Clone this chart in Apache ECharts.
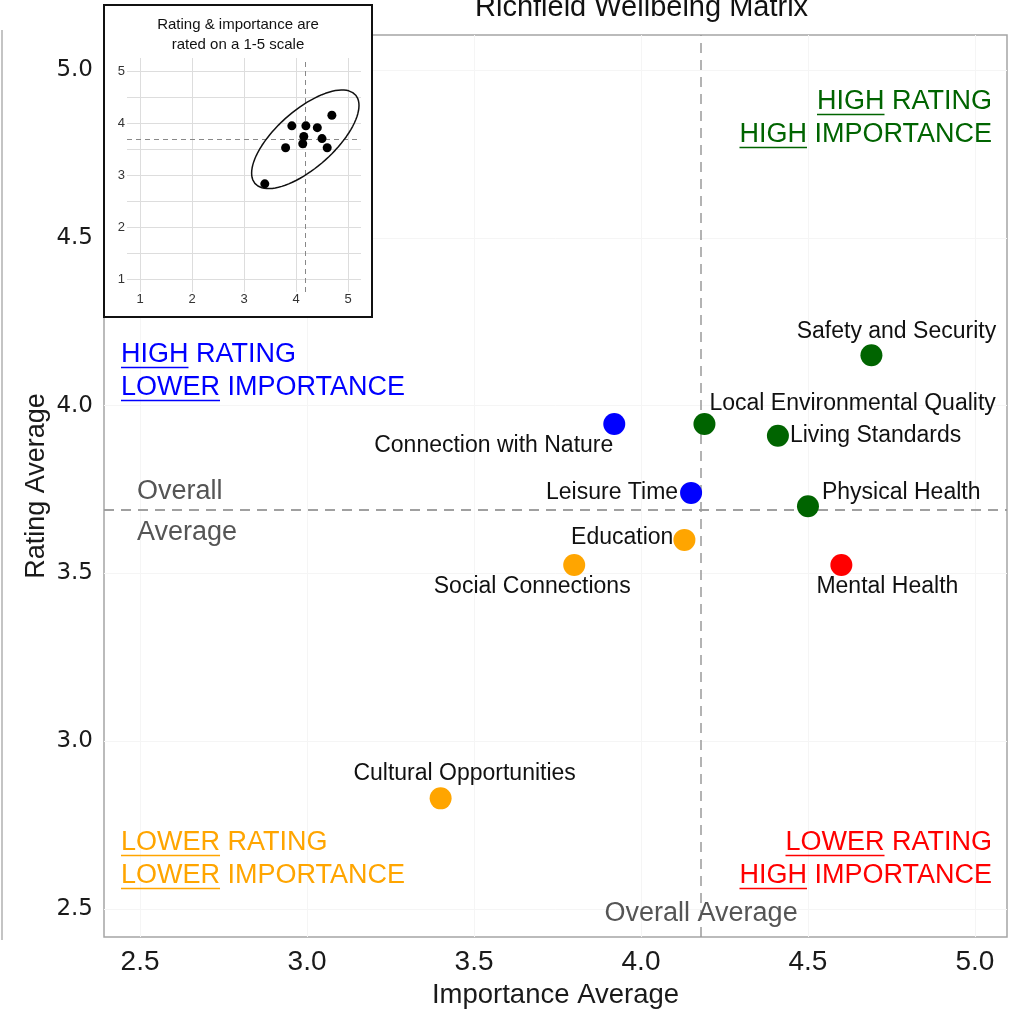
<!doctype html>
<html lang="en">
<head>
<meta charset="utf-8">
<title>Richfield Wellbeing Matrix</title>
<script src="https://cdn.jsdelivr.net/npm/echarts@6.0.0/dist/echarts.min.js"></script>
<style>
  html, body { margin: 0; padding: 0; background: #fff; }
  #chart { width: 1023px; height: 1014px; }
</style>
</head>
<body>
<div id="chart"></div>
<script>
  // data
  var names = ['Safety and Security', 'Local Environmental Quality', 'Living Standards',
    'Connection with Nature', 'Leisure Time', 'Physical Health', 'Education',
    'Social Connections', 'Mental Health', 'Cultural Opportunities'];
  var importance = [4.69, 4.19, 4.41, 3.92, 4.15, 4.50, 4.13, 3.80, 4.60, 3.40];
  var rating = [4.15, 3.945, 3.91, 3.945, 3.74, 3.70, 3.60, 3.525, 3.525, 2.83];
  // HH = high rating/high importance, HL = high rating/lower importance, ...
  var quadrant = ['HH', 'HH', 'HH', 'HL', 'HL', 'HH', 'LL', 'LL', 'LH', 'LL'];
  var xTicks = [2.5, 3.0, 3.5, 4.0, 4.5, 5.0];
  var yTicks = [2.5, 3.0, 3.5, 4.0, 4.5, 5.0];
  var insetTicks = [1, 2, 3, 4, 5];
  var insetYGrid = [1, 1.5, 2, 2.5, 3, 3.5, 4, 4.5, 5];

  // layout / style only
  var colors = { HH: '#006400', HL: '#0000ff', LL: '#ffa500', LH: '#ff0000' };
  // [align, dx, dy] of each point label
  var labelPlace = [
    ['center', 25, -24], ['left', 5, -20], ['left', 12, 0], ['right', -1, 22],
    ['right', -13, 0], ['left', 14, -14], ['right', -11, -2], ['center', -42, 22],
    ['center', 46, 22], ['center', 24, -25]
  ];
  var sans = '"Liberation Sans", Arial, sans-serif';

  function mean(a) { var s = 0; a.forEach(function (v) { s += v; }); return s / a.length; }
  var meanX = mean(importance);
  var meanY = mean(rating);

  // data ellipse from the covariance of the points (normal, level 0.92)
  function ellipse(xs, ys, level, segs) {
    var n = xs.length, mx = mean(xs), my = mean(ys);
    var sxx = 0, syy = 0, sxy = 0;
    for (var i = 0; i < n; i++) {
      sxx += (xs[i] - mx) * (xs[i] - mx);
      syy += (ys[i] - my) * (ys[i] - my);
      sxy += (xs[i] - mx) * (ys[i] - my);
    }
    sxx /= n - 1; syy /= n - 1; sxy /= n - 1;
    var d2 = n - 1;
    var fq = d2 / 2 * (Math.pow(1 - level, -2 / d2) - 1); // F(level; 2, n-1)
    var r = Math.sqrt(2 * fq);
    var a = Math.sqrt(sxx), b = sxy / a, c = Math.sqrt(syy - b * b);
    var pts = [];
    for (var k = 0; k <= segs; k++) {
      var t = 2 * Math.PI * k / segs;
      pts.push([mx + r * a * Math.cos(t), my + r * (b * Math.cos(t) + c * Math.sin(t))]);
    }
    return pts;
  }

  var mainData = names.map(function (nm, i) {
    var p = labelPlace[i];
    return {
      name: nm,
      value: [importance[i], rating[i]],
      itemStyle: { color: colors[quadrant[i]] },
      label: { align: p[0], offset: [p[1], p[2]] }
    };
  });
  var insetData = importance.map(function (v, i) { return [v, rating[i]]; });

  // quadrant captions with the first word underlined
  var measure = document.createElement('canvas').getContext('2d');
  function textW(s, size) {
    measure.font = size + 'px ' + sans;
    return measure.measureText(s).width;
  }
  function quadLabel(x, y, align, color, lines) {
    var els = [];
    var size = 27;
    lines.forEach(function (ln, i) {
      var full = ln[0] + ' ' + ln[1];
      var cy = y + i * 33;
      els.push({
        type: 'text', x: x, y: cy, z: 1,
        style: { text: full, fill: color, fontSize: size, fontFamily: sans, align: align, verticalAlign: 'middle' }
      });
      var w = textW(full, size), wu = textW(ln[0], size);
      var x0 = align === 'left' ? x : x - w;
      els.push({
        type: 'line', z: 1,
        shape: { x1: x0, y1: cy + 12.5, x2: x0 + wu, y2: cy + 12.5 },
        style: { stroke: color, lineWidth: 1.5 }
      });
    });
    return els;
  }

  var graphics = [
    { type: 'line', z: 0, shape: { x1: 2, y1: 30, x2: 2, y2: 940 }, style: { stroke: '#c4c4c4', lineWidth: 2 } },
    { type: 'rect', z: 3, shape: { x: 104, y: 5, width: 268, height: 312 },
      style: { fill: '#fff', stroke: '#111', lineWidth: 2 } },
    { type: 'text', z: 6, x: 238, y: 25,
      style: { text: 'Rating & importance are', fill: '#111', fontSize: 15, fontFamily: sans, align: 'center', verticalAlign: 'middle' } },
    { type: 'text', z: 6, x: 238, y: 45,
      style: { text: 'rated on a 1-5 scale', fill: '#111', fontSize: 15, fontFamily: sans, align: 'center', verticalAlign: 'middle' } }
  ]
    .concat(quadLabel(992, 102, 'right', colors.HH, [['HIGH', 'RATING'], ['HIGH', 'IMPORTANCE']]))
    .concat(quadLabel(121, 355, 'left', colors.HL, [['HIGH', 'RATING'], ['LOWER', 'IMPORTANCE']]))
    .concat(quadLabel(121, 843, 'left', colors.LL, [['LOWER', 'RATING'], ['LOWER', 'IMPORTANCE']]))
    .concat(quadLabel(992, 843, 'right', colors.LH, [['LOWER', 'RATING'], ['HIGH', 'IMPORTANCE']]));

  var chart = echarts.init(document.getElementById('chart'), null, { renderer: 'canvas' });

  var refLine = { color: '#9a9a9a', type: [10, 7], width: 1.5 };
  var refLabel = { fontSize: 27, fontFamily: sans, color: '#555' };

  var option = {
    backgroundColor: '#fff',
    animation: false,
    title: {
      text: 'Richfield Wellbeing Matrix',
      left: 470, top: -12,
      textStyle: { fontSize: 29, fontWeight: 'normal', fontFamily: sans, color: '#111' }
    },
    grid: [
      { left: 104, right: 16, top: 35, bottom: 74, show: true, borderColor: '#a5a5a5', borderWidth: 1.5 },
      { left: 127, top: 58, width: 234, height: 234 }
    ],
    xAxis: [
      {
        gridIndex: 0, type: 'value', min: 2.392, max: 5.096,
        name: 'Importance Average', nameLocation: 'middle', nameGap: 44, nameMoveOverlap: false,
        nameTextStyle: { fontSize: 27.5, fontFamily: sans, color: '#1a1a1a' },
        axisLine: { show: false },
        axisTick: { show: false, customValues: xTicks },
        axisLabel: {
          customValues: xTicks, margin: 11, fontSize: 28, fontFamily: sans, color: '#1a1a1a',
          formatter: function (v) { return v.toFixed(1); }
        },
        splitLine: { lineStyle: { color: '#f5f5f5', width: 1 } }
      },
      {
        gridIndex: 1, type: 'value', min: 0.75, max: 5.25, z: 4,
        axisLine: { show: false },
        axisTick: { show: false, customValues: insetTicks },
        axisLabel: { customValues: insetTicks, margin: 1, fontSize: 13, fontFamily: sans, color: '#333' },
        splitLine: { lineStyle: { color: '#dddddd', width: 1 } }
      }
    ],
    yAxis: [
      {
        gridIndex: 0, type: 'value', min: 2.417, max: 5.104,
        name: 'Rating Average', nameLocation: 'middle', nameGap: 54, nameMoveOverlap: false,
        nameTextStyle: { fontSize: 27, fontFamily: sans, color: '#1a1a1a' },
        axisLine: { show: false },
        axisTick: { show: false, customValues: yTicks },
        axisLabel: {
          customValues: yTicks, margin: 11, fontSize: 23, fontFamily: '"DejaVu Sans", sans-serif', color: '#1a1a1a',
          formatter: function (v) { return v.toFixed(1); }
        },
        splitLine: { lineStyle: { color: '#f5f5f5', width: 1 } }
      },
      {
        gridIndex: 1, type: 'value', min: 0.75, max: 5.25, z: 4,
        axisLine: { show: false },
        axisTick: { show: false, customValues: insetYGrid },
        axisLabel: { customValues: insetTicks, margin: 2, fontSize: 13, fontFamily: sans, color: '#333' },
        splitLine: { lineStyle: { color: '#dddddd', width: 1 } }
      }
    ],
    graphic: graphics,
    series: [
      {
        // overall-average reference lines, kept under the points
        type: 'scatter', xAxisIndex: 0, yAxisIndex: 0, z: 1,
        data: [],
        markLine: {
          silent: true, symbol: ['none', 'none'], animation: false, z: 1,
          lineStyle: refLine,
          data: [
            { yAxis: meanY, label: Object.assign({ formatter: 'Overall', position: 'insideStartTop', distance: [33, 5] }, refLabel) },
            { yAxis: meanY, label: Object.assign({ formatter: 'Average', position: 'insideStartBottom', distance: [33, 9] }, refLabel) },
            { xAxis: meanX, label: Object.assign({ formatter: 'Overall Average', position: 'start', distance: -37 }, refLabel) }
          ]
        }
      },
      {
        type: 'scatter', xAxisIndex: 0, yAxisIndex: 0, z: 2,
        symbolSize: 22,
        itemStyle: { opacity: 1 },
        data: mainData,
        label: {
          show: true, position: 'inside', verticalAlign: 'middle',
          formatter: '{b}', fontSize: 23, fontFamily: sans, color: '#111',
          textBorderWidth: 0
        },
        emphasis: { disabled: true }
      },
      {
        type: 'scatter', xAxisIndex: 1, yAxisIndex: 1, z: 6,
        symbolSize: 9,
        itemStyle: { color: '#000', opacity: 1 },
        data: insetData,
        emphasis: { disabled: true },
        markLine: {
          silent: true, symbol: ['none', 'none'], animation: false, z: 5,
          lineStyle: { color: '#888', type: [5, 4], width: 1 },
          label: { show: false },
          data: [{ xAxis: meanX }, { yAxis: meanY }]
        }
      },
      {
        type: 'line', xAxisIndex: 1, yAxisIndex: 1, z: 6,
        showSymbol: false, smooth: false, clip: false,
        lineStyle: { color: '#111', width: 1.5 },
        data: ellipse(importance, rating, 0.92, 90),
        emphasis: { disabled: true }
      }
    ]
  };

  chart.setOption(option);
  window.addEventListener('resize', chart.resize);
</script>
</body>
</html>
